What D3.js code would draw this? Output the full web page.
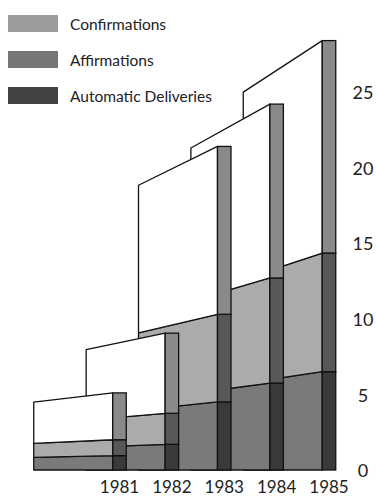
<!DOCTYPE html>
<html>
  <head>
    <meta charset="utf-8" />
    <title>deliveries</title>
    <script src="https://cdn.jsdelivr.net/npm/d3@7"></script>
    <style type="text/css">
      body { margin: 0; background: #fff; }
      svg text { font-family: Lato, "Open Sans", sans-serif; fill: #222; }
    </style>
  </head>

  <body>
    <svg id="chart" width="376" height="497"></svg>
    <script type="text/javascript">
      // data
      var years = ['1981', '1982', '1983', '1984', '1985'];
      var automatic = [0.95, 1.7, 4.5, 5.75, 6.5];
      var affirmations = [1.05, 2.05, 5.8, 6.95, 7.85];
      var confirmations = [3.1, 5.3, 11.1, 11.5, 14.05];
      var yTicks = [0, 5, 10, 15, 20, 25];
      var seriesNames = ['Confirmations', 'Affirmations', 'Automatic Deliveries'];

      var svg = d3.select('#chart');

      var y = d3.scaleLinear().domain([0, 25]).range([470, 92]);
      var x = d3.scalePoint().domain(years).range([119.5, 329]);

      var barW = 13.5;
      var panelW = 79;
      var depth = 0.88; // far edge of the panel is shorter (perspective)

      // face colour (panel) and side colour (narrow bar) per layer, bottom first
      var layers = [
        { vals: automatic, face: '#7a7a7a', side: '#3a3a3a' },
        { vals: affirmations, face: '#ababab', side: '#585858' },
        { vals: confirmations, face: '#ffffff', side: '#8a8a8a' }
      ];

      var stack = years.map(function (yr, i) {
        var acc = 0;
        return layers.map(function (l) {
          var s = { y0: acc, y1: acc + l.vals[i], face: l.face, side: l.side };
          acc = s.y1;
          return s;
        });
      });

      // later years sit behind, so draw 1985 first
      for (var i = years.length - 1; i >= 0; i--) {
        var xR = x(years[i]) - barW / 2;
        var xL = xR - panelW;
        var g = svg.append('g');

        g.selectAll('polygon')
          .data(stack[i])
          .enter()
          .append('polygon')
          .attr('points', function (d) {
            return [
              [xL, y(d.y0 * depth)],
              [xR, y(d.y0)],
              [xR, y(d.y1)],
              [xL, y(d.y1 * depth)]
            ].join(' ');
          })
          .attr('fill', (d) => d.face)
          .attr('stroke', '#111')
          .attr('stroke-width', 1.3)
          .attr('stroke-linejoin', 'round');

        g.selectAll('rect')
          .data(stack[i])
          .enter()
          .append('rect')
          .attr('x', xR)
          .attr('width', barW)
          .attr('y', (d) => y(d.y1))
          .attr('height', (d) => y(d.y0) - y(d.y1))
          .attr('fill', (d) => d.side)
          .attr('stroke', '#111')
          .attr('stroke-width', 1.3);
      }

      // year labels
      svg.append('g')
        .selectAll('text')
        .data(years)
        .enter()
        .append('text')
        .attr('x', (d) => x(d))
        .attr('y', 493)
        .attr('text-anchor', 'middle')
        .style('font-size', '17px')
        .text((d) => d);

      // value axis on the right, labels only
      var ax = svg.append('g')
        .attr('transform', 'translate(350,1)')
        .call(d3.axisRight(y).tickValues(yTicks).tickSize(0).tickPadding(0));
      ax.select('.domain').remove();
      ax.selectAll('text')
        .attr('x', 13)
        .attr('text-anchor', 'middle')
        .style('font-size', '18px')
        .style('font-family', 'Lato, sans-serif')
        .attr('fill', '#222');

      // legend
      var legColors = ['#9c9c9c', '#767676', '#434343'];
      var leg = svg.append('g')
        .selectAll('g')
        .data(seriesNames)
        .enter()
        .append('g')
        .attr('transform', (d, i) => 'translate(8,' + (15 + i * 36) + ')');
      leg.append('rect')
        .attr('width', 50)
        .attr('height', 17)
        .attr('fill', (d, i) => legColors[i]);
      leg.append('text')
        .attr('x', 62)
        .attr('y', 15)
        .style('font-size', '15.5px')
        .text((d) => d);
    </script>
  </body>
</html>
